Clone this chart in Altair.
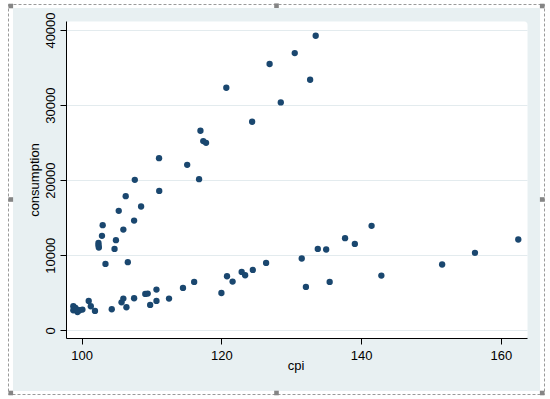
import altair as alt
import pandas as pd

# ---- data ----
cpi = [
    98.8, 99.1, 98.8, 99.4, 99.7, 100.1, 99.3, 101.0, 101.3, 101.9,
    104.3, 105.7, 105.96, 106.4, 107.5, 109.1, 109.45, 109.8, 110.7, 110.7,
    112.5, 114.5, 116.1, 120.0, 120.8, 121.6, 122.9, 123.4, 124.5, 126.4,
    131.5, 132.1, 133.8, 135.0, 135.5, 137.7, 139.1, 141.5, 142.9, 151.6,
    156.3, 162.5,
    102.4, 102.4, 102.45, 102.9, 103.0, 103.4, 104.7, 104.9, 105.3, 105.96,
    106.3, 106.6, 107.5, 107.6, 108.5, 111.07, 111.1, 115.1, 116.8, 117.0,
    117.4, 117.8, 120.7, 124.4, 126.9, 128.5, 130.5, 132.7, 133.5,
]
consumption = [
    3200, 2980, 2670, 2440, 2670, 2760, 2760, 3910, 3200, 2580,
    2800, 3730, 4220, 3070, 4270, 4840, 4890, 3380, 5420, 3910,
    4220, 5640, 6440, 4970, 7200, 6490, 7780, 7330, 8040, 8980,
    9560, 5780, 10840, 10760, 6440, 12270, 11510, 13910, 7290, 8760,
    10310, 12090,
    11640, 11330, 11030, 12580, 14000, 8840, 10840, 12000, 15910, 13420,
    17870, 9070, 14620, 20040, 16490, 22930, 18570, 22040, 20130, 26580,
    25200, 24970, 32310, 27780, 35470, 30360, 36930, 33370, 39240,
]
x_ticks = [100, 120, 140, 160]
y_ticks = [0, 10000, 20000, 30000, 40000]

df = pd.DataFrame({"cpi": cpi, "consumption": consumption})

# ---- layout ----
PL, PT, W, H = 66, 21, 461, 317
TOTAL_W, TOTAL_H = 550, 399
FONT = "Liberation Sans"
BG = "#e8f0f2"

points = alt.Chart(df).mark_circle(size=40, color="#1a476f", opacity=1).encode(
    x=alt.X(
        "cpi:Q",
        scale=alt.Scale(domain=[97.75, 163.75], nice=False, zero=False),
        axis=alt.Axis(
            values=x_ticks, grid=False, title="cpi",
            domainColor="black", domainWidth=1, tickColor="black", tickSize=6, tickWidth=1,
            labelFont=FONT, labelFontSize=13, labelColor="black", labelPadding=5,
            labelFlush=False, labelBaseline="top",
            titleFont=FONT, titleFontSize=13, titleFontWeight="normal", titleColor="black",
            titleX=229.5, titleY=31.5, titleAlign="center", titleBaseline="alphabetic",
        ),
    ),
    y=alt.Y(
        "consumption:Q",
        scale=alt.Scale(domain=[-1027, 41200], nice=False, zero=False),
        axis=alt.Axis(
            values=y_ticks, format="d", grid=True, gridColor="#e3ebee", gridWidth=1,
            title="consumption",
            domainColor="black", domainWidth=1, tickColor="black", tickSize=6, tickWidth=1,
            labelFont=FONT, labelFontSize=13, labelColor="black", labelPadding=6,
            labelAngle=270, labelAlign="center", labelBaseline="alphabetic", labelFlush=False,
            titleFont=FONT, titleFontSize=13, titleFontWeight="normal", titleColor="black",
            titleAngle=270, titleX=-27.5, titleY=158.5, titleAlign="center",
            titleBaseline="alphabetic",
        ),
    ),
)

one = pd.DataFrame({"d": [0]})


def box(x0, y0, x1, y1, **mk):
    """rectangle in page pixels (converted to plot-relative)"""
    return alt.Chart(one).mark_rect(**mk).encode(
        x=alt.value(x0 - PL), x2=alt.value(x1 - PL),
        y=alt.value(y0 - PT), y2=alt.value(y1 - PT),
    )


# white page margins around the grey-blue graph region
layers = [
    box(0, 0, 13, TOTAL_H, color="white"),
    box(540, 0, TOTAL_W, TOTAL_H, color="white"),
    box(0, 0, TOTAL_W, 8, color="white"),
    box(0, 391, TOTAL_W, TOTAL_H, color="white"),
]
# dashed selection border
layers.append(
    box(8.5, 4.5, 544.5, 394.5, fillOpacity=0, stroke="#9a9a9a", strokeWidth=1, strokeDash=[3, 2])
)
# selection handles
handle_cx = [10.8, 276.5, 542.2, 10.8, 542.2, 10.8, 276.5, 542.2]
handle_cy = [6.0, 5.7, 6.0, 199.5, 199.5, 393.0, 393.0, 393.0]
for cx, cy in zip(handle_cx, handle_cy):
    layers.append(box(cx - 2.3, cy - 2.3, cx + 2.3, cy + 2.3, color="#858585"))

chart = alt.layer(points, *layers).properties(
    width=W, height=H,
    autosize=alt.AutoSizeParams(type="none"),
    padding={"left": PL, "top": PT, "right": TOTAL_W - PL - W, "bottom": TOTAL_H - PT - H},
    background=BG,
).configure_view(fill="white", stroke="transparent", cornerRadius=3)

chart.save("out.html", embed_options={"renderer": "svg", "actions": False})
